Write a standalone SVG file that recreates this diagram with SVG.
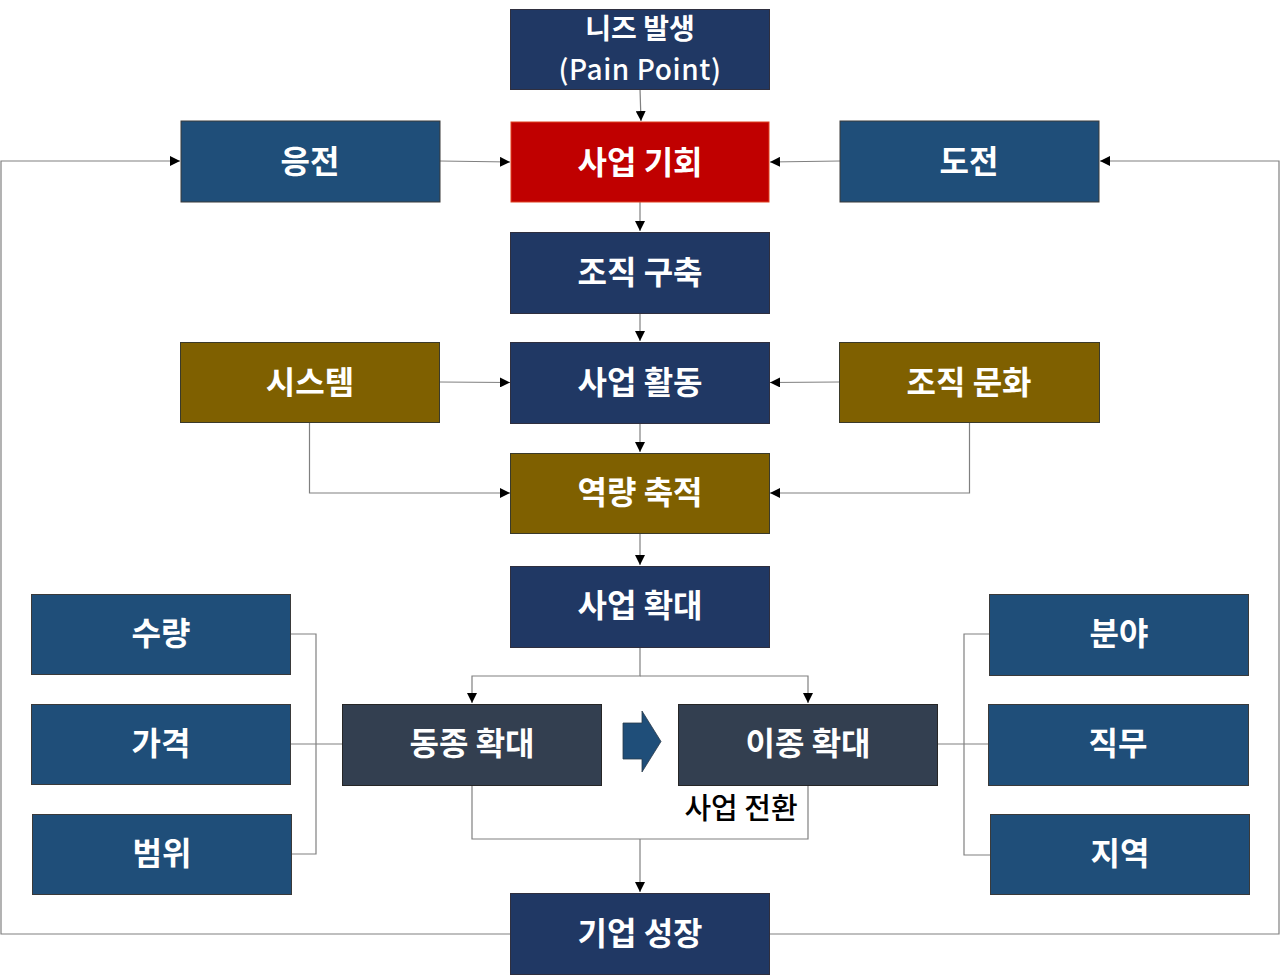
<svg xmlns="http://www.w3.org/2000/svg" width="1280" height="975" viewBox="0 0 1280 975">
<style>
.t{font-family:"Noto Sans CJK KR","Noto Sans",sans-serif;font-size:32px;font-weight:700;fill:#fff;text-anchor:middle;dominant-baseline:central}
.t2{font-size:28px}
.navy{fill:#203864;stroke:#2f2f3f;stroke-width:1}
.blue{fill:#1f4e79;stroke:#3a3a3a;stroke-width:1}
.olive{fill:#7f6000;stroke:#3a3a2a;stroke-width:1}
.slate{fill:#333f50;stroke:#262626;stroke-width:1}
.red{fill:#c00000;stroke:#e04020;stroke-width:1}
.c{fill:none;stroke:#808080;stroke-width:1.2}
.ca{fill:none;stroke:#808080;stroke-width:1.2;marker-end:url(#ah)}
</style>
<defs>
<marker id="ah" viewBox="0 0 10 10" refX="10" refY="5" markerWidth="10" markerHeight="10" markerUnits="userSpaceOnUse" orient="auto">
<path d="M0,0 L10,5 L0,10 z" fill="#000"/>
</marker>
</defs>
<rect width="1280" height="975" fill="#fff"/>
<g id="connectors">
<path class="ca" d="M640,89 L641,121"/>
<path class="ca" d="M440,161 L510,162"/>
<path class="ca" d="M840,161 L770,162"/>
<path class="ca" d="M640,202 L640,231"/>
<path class="ca" d="M640,313 L640,341"/>
<path class="ca" d="M439,382 L510,382.5"/>
<path class="ca" d="M839,382 L770,382.5"/>
<path class="ca" d="M640,423 L640,452"/>
<path class="ca" d="M309.5,422 L309.5,493 L510,493"/>
<path class="ca" d="M969.5,422 L969.5,493 L770,493"/>
<path class="ca" d="M640,533 L640,565"/>
<path class="ca" d="M640,647 L640,676 L472,676 L472,703"/>
<path class="ca" d="M640,676 L808,676 L808,703"/>
<path class="c" d="M472,785 L472,839 L808,839 L808,785"/>
<path class="ca" d="M640,839 L640,892"/>
<path class="c" d="M290,634 L316,634 L316,854 L291,854"/>
<path class="c" d="M290,744 L342,744"/>
<path class="c" d="M989,634 L964,634 L964,855 L990,855"/>
<path class="c" d="M937,744 L988,744"/>
<path class="ca" d="M510,934 L1,934 L1,161 L180,161"/>
<path class="ca" d="M769,934 L1279,934 L1279,161 L1100,161"/>
</g>
<g id="n-needs"><rect class="navy" x="510.5" y="9.5" width="259" height="80"/><text class="t t2" x="640" y="27">니즈 발생</text><text class="t t2" x="640" y="68" style="font-weight:500;letter-spacing:0.6px">(Pain Point)</text></g>
<g id="n-opportunity"><rect class="red" x="511" y="122" width="258" height="80"/><text class="t" x="640" y="160">사업 기회</text></g>
<g id="n-response"><rect class="blue" x="181" y="121" width="259" height="81"/><text class="t" x="310" y="159">응전</text></g>
<g id="n-challenge"><rect class="blue" x="840" y="121" width="259" height="81"/><text class="t" x="969" y="159">도전</text></g>
<g id="n-org"><rect class="navy" x="510.5" y="232.5" width="259" height="81"/><text class="t" x="640" y="270">조직 구축</text></g>
<g id="n-activity"><rect class="navy" x="510.5" y="342.5" width="259" height="81"/><text class="t" x="640" y="380">사업 활동</text></g>
<g id="n-system"><rect class="olive" x="180.5" y="342.5" width="259" height="80"/><text class="t" x="310" y="380">시스템</text></g>
<g id="n-culture"><rect class="olive" x="839.5" y="342.5" width="260" height="80"/><text class="t" x="969" y="380">조직 문화</text></g>
<g id="n-capability"><rect class="olive" x="510.5" y="453.5" width="259" height="80"/><text class="t" x="640" y="490">역량 축적</text></g>
<g id="n-expand"><rect class="navy" x="510.5" y="566.5" width="259" height="81"/><text class="t" x="640" y="603">사업 확대</text></g>
<g id="n-qty"><rect class="blue" x="31.5" y="594.5" width="259" height="80"/><text class="t" x="161" y="631">수량</text></g>
<g id="n-price"><rect class="blue" x="31.5" y="704.5" width="259" height="80"/><text class="t" x="161" y="741">가격</text></g>
<g id="n-scope"><rect class="blue" x="32.5" y="814.5" width="259" height="80"/><text class="t" x="162" y="851">범위</text></g>
<g id="n-same"><rect class="slate" x="342.5" y="704.5" width="259" height="81"/><text class="t" x="472" y="741">동종 확대</text></g>
<g id="n-shift-arrow"><path d="M623,723 L642,723 L642,711 L661,741.5 L642,772 L642,759 L623,759 z" fill="#1f4e79" stroke="#2a3a4a" stroke-width="0.8"/></g>
<g id="n-diff"><rect class="slate" x="678.5" y="704.5" width="259" height="81"/><text class="t" x="808" y="741">이종 확대</text></g>
<g id="l-shift"><text x="741" y="806" style="font-family:'Noto Sans CJK KR','Noto Sans',sans-serif;font-size:29px;font-weight:500;fill:#000;text-anchor:middle;dominant-baseline:central">사업 전환</text></g>
<g id="n-field"><rect class="blue" x="989.5" y="594.5" width="259" height="81"/><text class="t" x="1119" y="631">분야</text></g>
<g id="n-job"><rect class="blue" x="988.5" y="704.5" width="260" height="81"/><text class="t" x="1118" y="741">직무</text></g>
<g id="n-region"><rect class="blue" x="990.5" y="814.5" width="259" height="80"/><text class="t" x="1120" y="851">지역</text></g>
<g id="n-growth"><rect class="navy" x="510.5" y="893.5" width="259" height="81"/><text class="t" x="640" y="931">기업 성장</text></g>
</svg>
